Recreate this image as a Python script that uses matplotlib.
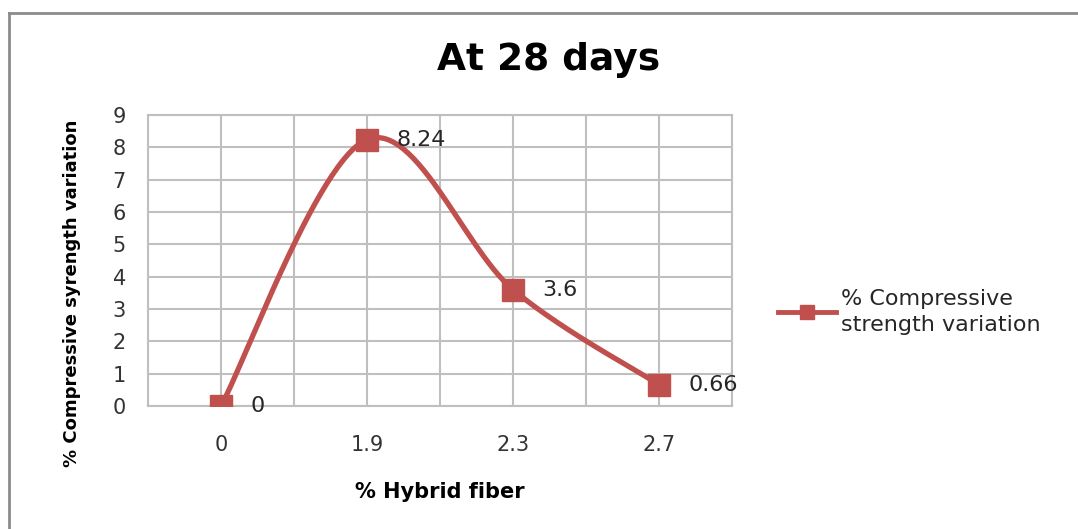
import numpy as np
import matplotlib.pyplot as plt
from matplotlib.lines import Line2D

plt.rcParams['font.family'] = ['DejaVu Sans']

categories = ["0", "1.9", "2.3", "2.7"]
values = [0, 8.24, 3.6, 0.66]
series_name = "% Compressive\nstrength variation"

red = "#C0504D"
grid_c = "#BFBFBF"

W, H = 1078, 529
fig = plt.figure(figsize=(W / 100, H / 100), dpi=100)
ax = fig.add_axes([148 / W, (H - 406) / H, 584 / W, 291 / H])

x = np.arange(len(categories))
ax.set_xlim(-0.5, len(categories) - 0.5)
ax.set_ylim(0, 9)


def excel_smooth(px, py, n=60):
    # bezier smoothing like excel, done in screen space
    pts = ax.transData.transform(np.column_stack([px, py]))
    ext = np.vstack([pts[0], pts, pts[-1]])
    out = []
    t = np.linspace(0, 1, n)[:, None]
    for i in range(1, len(ext) - 2):
        p0, p3 = ext[i], ext[i + 1]
        c1 = p0 + (ext[i + 1] - ext[i - 1]) / 6
        c2 = p3 - (ext[i + 2] - ext[i]) / 6
        seg = ((1 - t) ** 3) * p0 + 3 * ((1 - t) ** 2) * t * c1 + 3 * (1 - t) * t ** 2 * c2 + t ** 3 * p3
        out.append(seg)
    out = np.vstack(out)
    back = ax.transData.inverted().transform(out)
    return back[:, 0], back[:, 1]


sx, sy = excel_smooth(x, values)
ax.plot(sx, sy, color=red, lw=3.8, solid_capstyle='round', zorder=3)
ax.plot(x, values, 's', color=red, ms=15.5, zorder=4)

for xi, v in zip(x, values):
    ax.annotate(f"{v:g}", (xi, v), xytext=(21, 0), textcoords='offset points',
                ha='left', va='center', fontsize=16, color='#262626', zorder=5)

ax.set_xticks(x)
ax.set_xticklabels(categories)
ax.set_xticks(np.arange(-0.5, len(categories), 0.5), minor=True)
ax.xaxis.remove_overlapping_locs = False
ax.set_yticks(range(0, 10))
ax.grid(True, which='major', axis='y', color=grid_c, lw=1.5)
ax.grid(True, which='minor', axis='x', color=grid_c, lw=1.5)
ax.set_axisbelow(True)
for s in ax.spines.values():
    s.set_color(grid_c)
    s.set_linewidth(1.5)
ax.tick_params(which='both', length=0, labelsize=15, colors='#333333')
ax.tick_params(axis='x', pad=21)
ax.tick_params(axis='y', pad=16)

ax.set_xlabel("% Hybrid fiber", fontsize=15, fontweight='bold')
ax.xaxis.set_label_coords(0.5, -(482 - 406) / 291)
ax.set_ylabel("% Compressive syrength variation", fontsize=13, fontweight='bold')
ax.yaxis.set_label_coords(-(148 - 81) / 584, (406 - 293) / 291)
fig.text(549 / W, 1 - 60 / H, "At 28 days", fontsize=27, fontweight='bold',
         ha='center', va='center')

handle = Line2D([], [], color=red, lw=3.5, marker='s', ms=10)
leg = fig.legend([handle], [series_name], loc='center left', bbox_to_anchor=(758 / W, 1 - 312 / H),
                 frameon=False, fontsize=16, handlelength=2.6, handletextpad=0.25,
                 labelcolor='#262626')
leg.get_texts()[0].set_linespacing(1.4)

# outer chart border
fig.add_artist(Line2D([9 / W, 9 / W], [0, 1 - 13 / H], transform=fig.transFigure, color='#8C8C8C', lw=2))
fig.add_artist(Line2D([9 / W, 1], [1 - 13 / H, 1 - 13 / H], transform=fig.transFigure, color='#8C8C8C', lw=2))

fig.savefig("out.png", dpi=100)
